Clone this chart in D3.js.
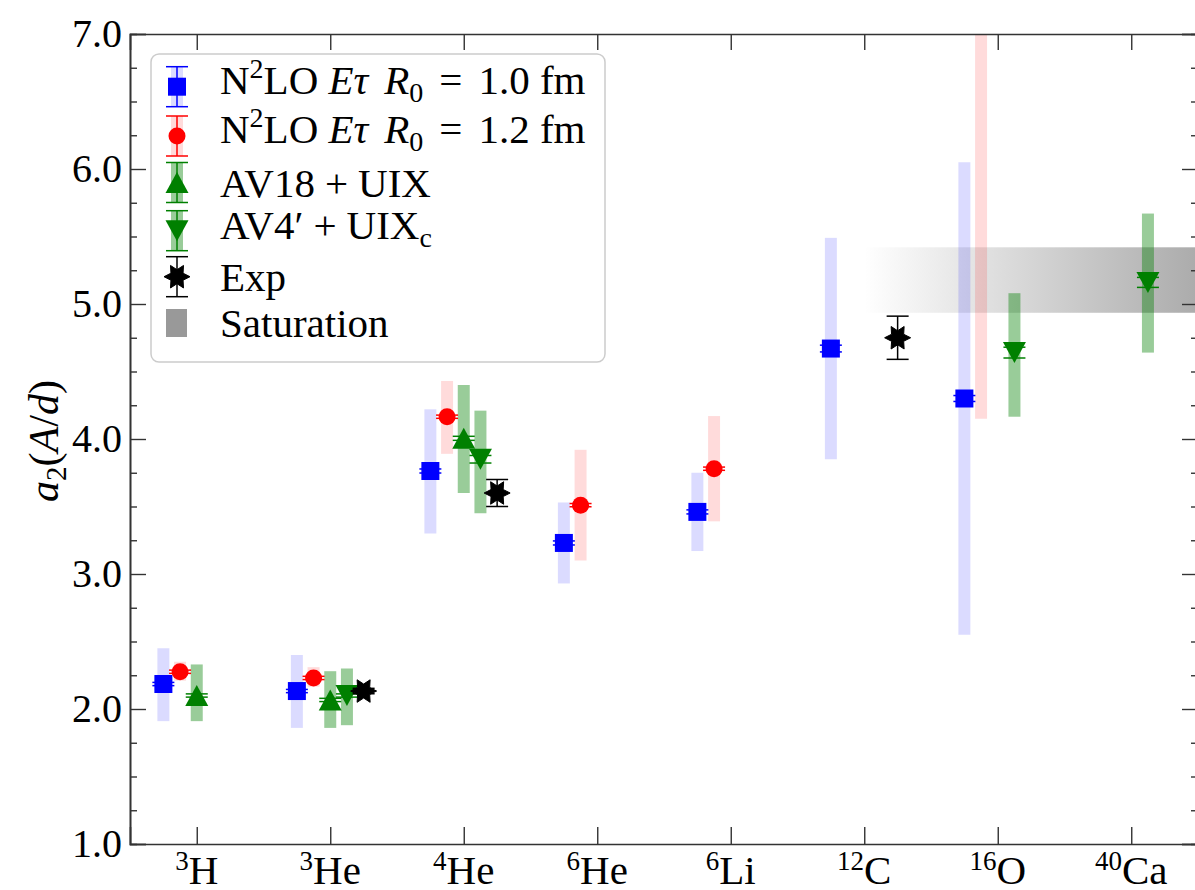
<!DOCTYPE html>
<html>
<head>
<meta charset="utf-8">
<script src="https://cdn.jsdelivr.net/npm/d3@7"></script>
<style>
body { margin: 0; background: #fff; }
</style>
</head>
<body>
<div id="chart"></div>
<script>
// categories
var nuclei = ["3H", "3He", "4He", "6He", "6Li", "12C", "16O", "40Ca"],
    massNumbers = ["3", "3", "4", "6", "6", "12", "16", "40"],
    symbols = ["H", "He", "He", "He", "Li", "C", "O", "Ca"];

// N2LO E-tau R0 = 1.0 fm
var r10Nuclei = ["3H", "3He", "4He", "6He", "6Li", "12C", "16O"],
    r10Values = [2.185, 2.133, 3.763, 3.23, 3.46, 4.67, 4.30],
    r10Stat = [0.012, 0.012, 0.015, 0.015, 0.015, 0.025, 0.022],
    r10Lo = [1.91, 1.86, 3.30, 2.93, 3.17, 3.85, 2.55],
    r10Hi = [2.45, 2.40, 4.22, 3.53, 3.75, 5.49, 6.05];

// N2LO E-tau R0 = 1.2 fm
var r12Nuclei = ["3H", "3He", "4He", "6He", "6Li", "16O"],
    r12Values = [2.276, 2.23, 4.165, 3.51, 3.78, 7.6],
    r12Stat = [0.012, 0.012, 0.012, 0.012, 0.012, 0.03],
    r12Lo = [2.21, 2.165, 3.89, 3.10, 3.39, 4.15],
    r12Hi = [2.35, 2.31, 4.43, 3.92, 4.17, 11.0];

// AV18 + UIX
var av18Nuclei = ["3H", "3He", "4He"],
    av18Values = [2.10, 2.067, 4.005],
    av18Stat = [0.012, 0.012, 0.015],
    av18Lo = [1.91, 1.86, 3.60],
    av18Hi = [2.33, 2.28, 4.40];

// AV4' + UIXc
var av4Nuclei = ["3He", "4He", "16O", "40Ca"],
    av4Values = [2.10, 3.85, 4.64, 5.16],
    av4Stat = [0.012, 0.028, 0.04, 0.037],
    av4Lo = [1.88, 3.45, 4.165, 4.64],
    av4Hi = [2.30, 4.21, 5.08, 5.67];

// experiment
var expNuclei = ["3He", "4He", "12C"],
    expValues = [2.133, 3.60, 4.75],
    expErr = [0.02, 0.10, 0.16];

// saturation band
var satFrom = "12C", satLo = 4.935, satHi = 5.42;

var yTicks = [1, 2, 3, 4, 5, 6, 7];

var FONT = "Liberation Serif";

var width = 1195, height = 890,
    margin = {top: 34, left: 130, bottom: 844, right: 1198};

var svg = d3.select("#chart").append("svg")
    .attr("width", width)
    .attr("height", height);

var x = d3.scalePoint()
    .domain(nuclei)
    .range([margin.left, margin.right])
    .padding(0.5);

var y = d3.scaleLinear()
    .domain([1, 7])
    .range([margin.bottom, margin.top]);

var step = x.step();

var defs = svg.append("defs");
defs.append("clipPath").attr("id", "clip")
    .append("rect")
    .attr("x", margin.left).attr("y", margin.top)
    .attr("width", margin.right - margin.left)
    .attr("height", margin.bottom - margin.top);

var grad = defs.append("linearGradient")
    .attr("id", "satGrad")
    .attr("gradientUnits", "userSpaceOnUse")
    .attr("x1", x(satFrom)).attr("x2", margin.right)
    .attr("y1", 0).attr("y2", 0);
grad.append("stop").attr("offset", 0).attr("stop-color", "#808080").attr("stop-opacity", 0);
grad.append("stop").attr("offset", 1).attr("stop-color", "#808080").attr("stop-opacity", 0.66);

function starPath(ro, ri) {
    var pts = [];
    for (var i = 0; i < 12; i++) {
        var a = i * Math.PI / 6, r = i % 2 ? ri : ro;
        pts.push([r * Math.cos(a), r * Math.sin(a)]);
    }
    return "M" + pts.join("L") + "Z";
}

var shapes = {
    square: "M-9,-9H9V9H-9Z",
    circle: d3.symbol(d3.symbolCircle, Math.PI * 8.5 * 8.5)(),
    up: "M0,-10.5L11.5,10.5L-11.5,10.5Z",
    down: "M0,10.5L11.5,-10.5L-11.5,-10.5Z",
    star: starPath(13, 7)
};

function zip(ns, vals, errs, lo, hi) {
    return ns.map(function(n, i) {
        return {n: n, v: vals[i], e: errs[i], lo: lo ? lo[i] : null, hi: hi ? hi[i] : null};
    });
}

var series = [
    {data: zip(r10Nuclei, r10Values, r10Stat, r10Lo, r10Hi), color: "#0000ff", bandOpacity: 0.14, shape: "square", offset: -0.25},
    {data: zip(r12Nuclei, r12Values, r12Stat, r12Lo, r12Hi), color: "#ff0000", bandOpacity: 0.14, shape: "circle", offset: -0.125},
    {data: zip(av18Nuclei, av18Values, av18Stat, av18Lo, av18Hi), color: "#008000", bandOpacity: 0.4, shape: "up", offset: 0},
    {data: zip(av4Nuclei, av4Values, av4Stat, av4Lo, av4Hi), color: "#008000", bandOpacity: 0.4, shape: "down", offset: 0.125},
    {data: zip(expNuclei, expValues, expErr), color: "#000000", bandOpacity: 0, shape: "star", offset: 0.25}
];

var plot = svg.append("g").attr("clip-path", "url(#clip)");

// saturation
plot.append("rect")
    .attr("x", x(satFrom))
    .attr("y", y(satHi))
    .attr("width", margin.right - x(satFrom))
    .attr("height", y(satLo) - y(satHi))
    .attr("fill", "url(#satGrad)");

// bands
series.forEach(function(s) {
    if (!s.bandOpacity) return;
    plot.append("g").selectAll("rect")
        .data(s.data)
        .enter().append("rect")
        .attr("x", function(d) { return x(d.n) + s.offset * step - 6; })
        .attr("width", 12)
        .attr("y", function(d) { return y(d.hi); })
        .attr("height", function(d) { return y(d.lo) - y(d.hi); })
        .attr("fill", s.color)
        .attr("fill-opacity", s.bandOpacity);
});

// error bars and markers
series.forEach(function(s) {
    var g = plot.append("g").selectAll("g")
        .data(s.data)
        .enter().append("g")
        .attr("transform", function(d) { return "translate(" + (x(d.n) + s.offset * step) + ",0)"; });
    g.append("line")
        .attr("y1", function(d) { return y(d.v - d.e); })
        .attr("y2", function(d) { return y(d.v + d.e); })
        .attr("stroke", s.color).attr("stroke-width", 1.5);
    [-1, 1].forEach(function(sg) {
        g.append("line")
            .attr("x1", -11).attr("x2", 11)
            .attr("y1", function(d) { return y(d.v + sg * d.e); })
            .attr("y2", function(d) { return y(d.v + sg * d.e); })
            .attr("stroke", s.color).attr("stroke-width", 1.5);
    });
    g.append("path")
        .attr("d", shapes[s.shape])
        .attr("transform", function(d) { return "translate(0," + y(d.v) + ")"; })
        .attr("fill", s.color)
        .attr("stroke", s.shape == "star" ? "#000" : "none")
        .attr("stroke-width", 1);
});

// axes
var axisColor = "#333";
function styleAxis(g) {
    g.attr("font-family", FONT);
    g.select(".domain").attr("stroke", axisColor).attr("stroke-width", 1.6);
    g.selectAll(".tick line").attr("stroke", axisColor).attr("stroke-width", 1.4);
    g.selectAll("text").style("font-family", FONT).attr("font-size", 40).attr("fill", "#000");
}

var minorTicks = d3.range(1, 7.001, 0.25).filter(function(v) { return Math.abs(v - Math.round(v)) > 1e-6; });

svg.append("g").attr("transform", "translate(" + margin.left + ",0)")
    .call(d3.axisLeft(y).tickValues(yTicks).tickSize(-16).tickPadding(8).tickFormat(d3.format(".1f")))
    .call(styleAxis);
svg.append("g").attr("transform", "translate(" + margin.left + ",0)")
    .call(d3.axisLeft(y).tickValues(minorTicks).tickSize(-7).tickFormat(""))
    .call(styleAxis);
svg.append("g").attr("transform", "translate(" + margin.right + ",0)")
    .call(d3.axisRight(y).tickValues(yTicks).tickSize(-16).tickFormat(""))
    .call(styleAxis);
svg.append("g").attr("transform", "translate(" + margin.right + ",0)")
    .call(d3.axisRight(y).tickValues(minorTicks).tickSize(-7).tickFormat(""))
    .call(styleAxis);
svg.append("g").attr("transform", "translate(0," + margin.bottom + ")")
    .call(d3.axisBottom(x).tickSize(-17).tickFormat(""))
    .call(styleAxis);
svg.append("g").attr("transform", "translate(0," + margin.top + ")")
    .call(d3.axisTop(x).tickSize(-16).tickFormat(""))
    .call(styleAxis);

// x tick labels with superscript mass numbers
nuclei.forEach(function(n, i) {
    var t = svg.append("text")
        .attr("x", x(n)).attr("y", 884)
        .attr("text-anchor", "middle")
        .style("font-family", FONT)
        .attr("font-size", 41);
    t.append("tspan").attr("font-size", 27).attr("dy", -14).text(massNumbers[i]);
    t.append("tspan").attr("dy", 14).text(symbols[i]);
});

// rich text helper
function rich(t, parts, size) {
    var shift = 0;
    parts.forEach(function(p) {
        var target = p.sup ? -Math.round(size * 0.38) : p.sub ? Math.round(size * 0.2) : 0;
        var ts = t.append("tspan").attr("dy", target - shift).text(p.t);
        shift = target;
        if (p.sup || p.sub) ts.attr("font-size", Math.round(size * 0.68));
        if (p.it) ts.attr("font-style", "italic");
        if (p.dx) ts.attr("dx", p.dx);
    });
}

// y label
var yl = svg.append("text")
    .attr("transform", "translate(58,441) rotate(-90)")
    .attr("text-anchor", "middle")
    .style("font-family", FONT)
    .attr("font-size", 42);
rich(yl, [{t: "a", it: true}, {t: "2", sub: true}, {t: "("}, {t: "A", it: true}, {t: "/"}, {t: "d", it: true}, {t: ")"}], 42);

// legend
var legend = svg.append("g");
legend.append("rect")
    .attr("x", 151).attr("y", 54)
    .attr("width", 454).attr("height", 308)
    .attr("rx", 8)
    .attr("fill", "#fff").attr("fill-opacity", 0.8)
    .attr("stroke", "#cccccc").attr("stroke-width", 1.5);

var legendItems = [
    {s: series[0], yc: 86.7, base: 7, parts: [{t: "N"}, {t: "2", sup: true}, {t: "LO "}, {t: "Eτ", it: true}, {t: "R", it: true, dx: 16}, {t: "0", sub: true}, {t: "=", dx: 16}, {t: "1.0 fm", dx: 16}]},
    {s: series[1], yc: 136, base: 7, parts: [{t: "N"}, {t: "2", sup: true}, {t: "LO "}, {t: "Eτ", it: true}, {t: "R", it: true, dx: 16}, {t: "0", sub: true}, {t: "=", dx: 16}, {t: "1.2 fm", dx: 16}]},
    {s: series[2], yc: 182.5, base: 14, parts: [{t: "AV18"}, {t: "+", dx: 10}, {t: "UIX", dx: 10}]},
    {s: series[3], yc: 230.7, base: 8, parts: [{t: "AV4′"}, {t: "+", dx: 10}, {t: "UIX", dx: 10}, {t: "c", sub: true}]},
    {s: series[4], yc: 276.7, base: 14, parts: [{t: "Exp"}]},
    {s: null, yc: 323, base: 14, parts: [{t: "Saturation"}]}
];

legendItems.forEach(function(it) {
    var g = legend.append("g").attr("transform", "translate(177," + it.yc + ")");
    if (it.s) {
        if (it.s.bandOpacity) {
            g.append("rect").attr("x", -6).attr("width", 12).attr("y", -20).attr("height", 40)
                .attr("fill", it.s.color).attr("fill-opacity", it.s.bandOpacity);
        }
        g.append("line").attr("y1", -20).attr("y2", 20).attr("stroke", it.s.color).attr("stroke-width", 1.5);
        [-20, 20].forEach(function(yy) {
            g.append("line").attr("x1", -11).attr("x2", 11).attr("y1", yy).attr("y2", yy)
                .attr("stroke", it.s.color).attr("stroke-width", 1.5);
        });
        g.append("path").attr("d", shapes[it.s.shape]).attr("fill", it.s.color)
            .attr("stroke", it.s.shape == "star" ? "#000" : "none");
    } else {
        g.append("rect").attr("x", -11).attr("y", -14).attr("width", 21).attr("height", 28).attr("fill", "#999");
    }
    var t = legend.append("text").attr("x", 220).attr("y", it.yc + it.base)
        .style("font-family", FONT).attr("font-size", 41);
    rich(t, it.parts, 41);
});
</script>
</body>
</html>
